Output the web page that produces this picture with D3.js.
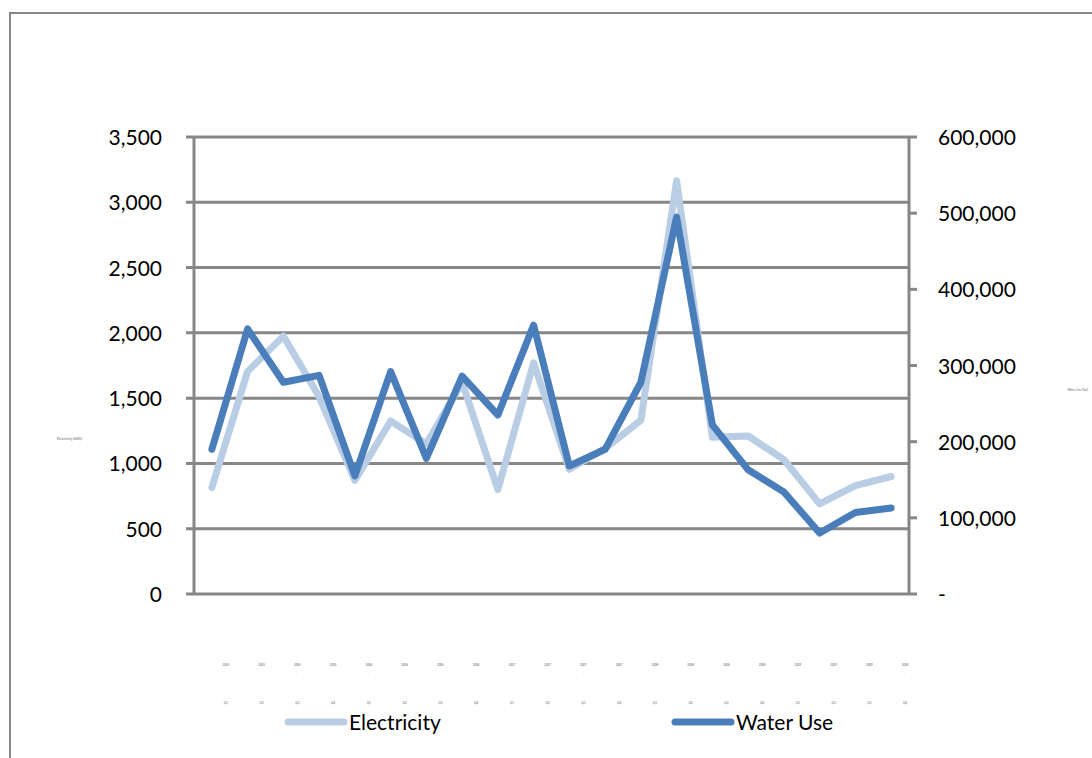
<!DOCTYPE html>
<html>
  <head>
    <meta charset="utf-8">
    <title>Electricity and Water Use</title>
    <script src="https://d3js.org/d3.v7.min.js"></script>
    <style>
      body { margin: 0; background: #fff; }
      text { font-family: Lato, "Open Sans", sans-serif; fill: #000; }
    </style>
  </head>
  <body>
    <div id="chart"></div>
    <script>

      // data (x labels are too small to read, so they are placeholders)
      var periods = ["2005 Q1","2005 Q2","2005 Q3","2005 Q4","2006 Q1","2006 Q2","2006 Q3","2006 Q4",
                     "2007 Q1","2007 Q2","2007 Q3","2007 Q4","2008 Q1","2008 Q2","2008 Q3","2008 Q4",
                     "2009 Q1","2009 Q2","2009 Q3","2009 Q4"];
      var electricity = [815, 1705, 1975, 1510, 870, 1325, 1150, 1620, 800, 1770,
                         955, 1115, 1330, 3165, 1200, 1210, 1030, 690, 830, 900];
      var waterUse = [190000, 348000, 278000, 287000, 155000, 292000, 178000, 286000, 235000, 353000,
                      168000, 190000, 278000, 495000, 222000, 163000, 134000, 80000, 107000, 113000];
      var leftTicks = [0, 500, 1000, 1500, 2000, 2500, 3000, 3500];
      var rightTicks = [0, 100000, 200000, 300000, 400000, 500000, 600000];
      var seriesNames = ["Electricity", "Water Use"];

      var width = 1092, height = 758;
      var plot = {left: 194, right: 909, top: 137, bottom: 594};
      var gray = "#878787";

      var svg = d3.select("#chart").append("svg")
          .attr("width", width)
          .attr("height", height);

      // chart frame (only the top and left edges are in view)
      svg.append("path")
        .attr("d", "M10," + height + "V13H" + width)
        .attr("fill", "none")
        .attr("stroke", gray)
        .attr("stroke-width", 2);

      var x = d3.scalePoint()
        .domain(periods)
        .range([plot.left, plot.right])
        .padding(0.5);

      var yLeft = d3.scaleLinear()
        .domain([0, 3500])
        .range([plot.bottom, plot.top]);

      var yRight = d3.scaleLinear()
        .domain([0, 600000])
        .range([plot.bottom, plot.top]);

      // gridlines with left ticks
      svg.append("g")
        .selectAll("line")
        .data(leftTicks)
        .join("line")
          .attr("x1", plot.left - 8)
          .attr("x2", plot.right)
          .attr("y1", function(d) { return yLeft(d); })
          .attr("y2", function(d) { return yLeft(d); })
          .attr("stroke", gray)
          .attr("stroke-width", 3);

      // left axis line
      svg.append("line")
        .attr("x1", plot.left).attr("x2", plot.left)
        .attr("y1", plot.top).attr("y2", plot.bottom)
        .attr("stroke", gray).attr("stroke-width", 3);

      // right axis line + outward ticks
      svg.append("line")
        .attr("x1", plot.right).attr("x2", plot.right)
        .attr("y1", plot.top).attr("y2", plot.bottom)
        .attr("stroke", gray).attr("stroke-width", 3);
      svg.append("g")
        .selectAll("line")
        .data(rightTicks)
        .join("line")
          .attr("x1", plot.right)
          .attr("x2", plot.right + 8)
          .attr("y1", function(d) { return yRight(d); })
          .attr("y2", function(d) { return yRight(d); })
          .attr("stroke", gray)
          .attr("stroke-width", 3);

      // tick labels
      var fmt = d3.format(",");
      svg.append("g")
        .selectAll("text")
        .data(leftTicks)
        .join("text")
          .attr("x", 162)
          .attr("y", function(d) { return yLeft(d) + 8; })
          .attr("text-anchor", "end")
          .style("font-size", "21px")
          .text(function(d) { return fmt(d); });

      svg.append("g")
        .selectAll("text")
        .data(rightTicks)
        .join("text")
          .attr("x", 938)
          .attr("y", function(d) { return yRight(d) + 8; })
          .style("font-size", "21px")
          .text(function(d) { return d === 0 ? "-" : fmt(d); });

      // tiny category labels
      var xl = svg.append("g").selectAll("g")
        .data(periods)
        .join("g")
          .attr("transform", function(d) { return "translate(" + (x(d) + 14) + ",0)"; });
      xl.append("text")
        .attr("y", 666)
        .attr("text-anchor", "middle")
        .style("font-size", "3px")
        .style("fill", "#666")
        .text(function(d) { return d.split(" ")[0]; });
      xl.append("text")
        .attr("y", 674)
        .attr("text-anchor", "middle")
        .style("font-size", "3px")
        .style("fill", "#999")
        .text("-");
      xl.append("text")
        .attr("y", 704)
        .attr("text-anchor", "middle")
        .style("font-size", "3px")
        .style("fill", "#666")
        .text(function(d) { return d.split(" ")[1]; });

      // tiny axis titles
      svg.append("text")
        .attr("x", 57).attr("y", 440)
        .style("font-size", "3.5px").style("fill", "#666")
        .text("Electricity (kWh)");
      svg.append("text")
        .attr("x", 1088).attr("y", 391)
        .attr("text-anchor", "end")
        .style("font-size", "3px").style("fill", "#666")
        .text("Water Use (Gal)");

      // lines
      var lineLeft = d3.line()
        .x(function(d, i) { return x(periods[i]); })
        .y(function(d) { return yLeft(d); });
      var lineRight = d3.line()
        .x(function(d, i) { return x(periods[i]); })
        .y(function(d) { return yRight(d); });

      svg.append("path")
        .datum(electricity)
        .attr("d", lineLeft)
        .attr("fill", "none")
        .attr("stroke", "#B9CDE5")
        .attr("stroke-width", 7)
        .attr("stroke-linejoin", "round")
        .attr("stroke-linecap", "round");

      svg.append("path")
        .datum(waterUse)
        .attr("d", lineRight)
        .attr("fill", "none")
        .attr("stroke", "#4A7EBB")
        .attr("stroke-width", 7)
        .attr("stroke-linejoin", "round")
        .attr("stroke-linecap", "round");

      // legend
      var legendX = [288, 675];
      var colors = ["#B9CDE5", "#4A7EBB"];
      var lg = svg.append("g").selectAll("g")
        .data(seriesNames)
        .join("g")
          .attr("transform", function(d, i) { return "translate(" + legendX[i] + ",722)"; });
      lg.append("line")
        .attr("x1", 0).attr("x2", 56)
        .attr("stroke", function(d, i) { return colors[i]; })
        .attr("stroke-width", 7)
        .attr("stroke-linecap", "round");
      lg.append("text")
        .attr("x", 61).attr("y", 8)
        .style("font-size", "21px")
        .text(function(d) { return d; });

    </script>
  </body>
</html>
